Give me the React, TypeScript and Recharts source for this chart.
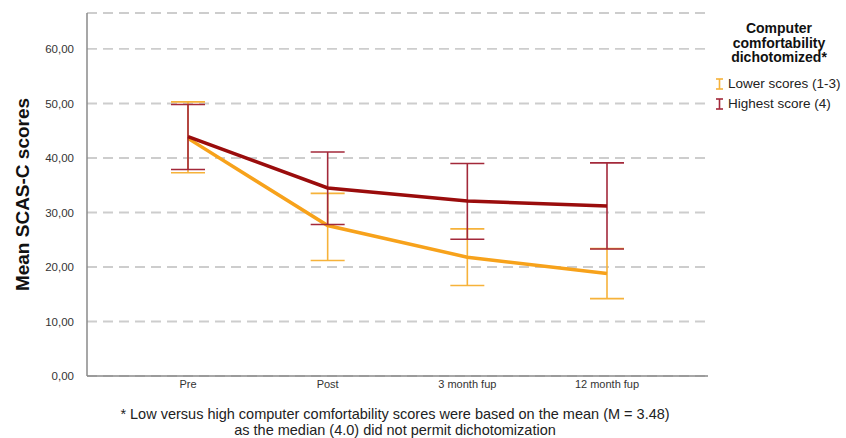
import React from 'react';
import { ComposedChart, Line, XAxis, YAxis, CartesianGrid, ErrorBar, Legend, Label } from 'recharts';

const categories = ['Pre', 'Post', '3 month fup', '12 month fup'];
const lowerMean = [43.6, 27.6, 21.8, 18.8];
const lowerCiLow = [37.3, 21.2, 16.6, 14.2];
const lowerCiHigh = [50.3, 33.5, 27.0, 23.4];
const highMean = [43.9, 34.5, 32.1, 31.2];
const highCiLow = [37.9, 27.8, 25.1, 23.3];
const highCiHigh = [49.8, 41.1, 39.0, 39.1];
const yTicks = [0, 10, 20, 30, 40, 50, 60];
const seriesNames = ['Lower scores (1-3)', 'Highest score (4)'];
const legendTitle = ['Computer', 'comfortability', 'dichotomized*'];
const footnote = [
  '* Low versus high computer comfortability scores were based on the mean (M = 3.48)',
  'as the median (4.0) did not permit dichotomization',
];

const LOW_LINE = '#F7A21B';
const LOW_ERR = '#F6B23A';
const HIGH_LINE = '#9A0C0C';
const HIGH_ERR = '#A3293A';
const FONT = '"Liberation Sans", Arial, sans-serif';

const data = categories.map((c, i) => ({
  cat: c,
  low: lowerMean[i],
  lowErr: [lowerMean[i] - lowerCiLow[i], lowerCiHigh[i] - lowerMean[i]],
  high: highMean[i],
  highErr: [highMean[i] - highCiLow[i], highCiHigh[i] - highMean[i]],
}));

const fmt = (v: number) => v.toFixed(2).replace('.', ',');

const ErrIcon = ({ color }: { color: string }) => (
  <svg width={9} height={12} style={{ display: 'inline-block', verticalAlign: 'middle' }}>
    <line x1={1} y1={1} x2={8} y2={1} stroke={color} strokeWidth={1.6} />
    <line x1={4.5} y1={1} x2={4.5} y2={11} stroke={color} strokeWidth={1.6} />
    <line x1={1} y1={11} x2={8} y2={11} stroke={color} strokeWidth={1.6} />
  </svg>
);

const LegendContent = () => {
  const colors = [LOW_ERR, HIGH_ERR];
  return (
    <div style={{ fontFamily: FONT, color: '#111' }}>
      <div style={{ fontWeight: 'bold', fontSize: 14, lineHeight: '14.5px', textAlign: 'center' }}>
        {legendTitle.map((t) => (
          <div key={t}>{t}</div>
        ))}
      </div>
      <div style={{ marginTop: 9, paddingLeft: 9 }}>
        {seriesNames.map((n, i) => (
          <div key={n} style={{ fontSize: 13.5, lineHeight: '20px', whiteSpace: 'nowrap', color: '#222' }}>
            <ErrIcon color={colors[i]} />
            <span style={{ marginLeft: 4, verticalAlign: 'middle' }}>{n}</span>
          </div>
        ))}
      </div>
    </div>
  );
};

export default function App() {
  return (
    <div style={{ position: 'absolute', left: 0, top: 0, width: 846, height: 438, background: '#fff', overflow: 'hidden' }}>
      <ComposedChart
        width={846}
        height={438}
        data={data}
        margin={{ top: 13, right: 138, bottom: 42, left: 0 }}
      >
        <CartesianGrid vertical={false} stroke="#cdcdcd" strokeWidth={1.8} strokeDasharray="10 6" />
        <XAxis
          dataKey="cat"
          height={20}
          padding={{ left: 101, right: 101 }}
          axisLine={{ stroke: '#8a8a8a', strokeWidth: 1.5 }}
          tickLine={false}
          tickSize={0}
          tickMargin={4}
          tick={{ fontSize: 11, fill: '#333', fontFamily: FONT }}
        />
        <YAxis
          width={87}
          domain={[0, 66.6]}
          ticks={yTicks}
          tickFormatter={fmt}
          axisLine={{ stroke: '#8a8a8a', strokeWidth: 1.5 }}
          tickLine={false}
          tickSize={6}
          tickMargin={7}
          tick={{ fontSize: 11.5, fill: '#333', fontFamily: FONT }}
        >
          <Label
            value="Mean SCAS-C scores"
            angle={-90}
            position="insideLeft"
            offset={22}
            style={{ fontSize: 19, fontWeight: 'bold', fill: '#111', fontFamily: FONT, textAnchor: 'middle' }}
          />
        </YAxis>
        <Legend
          layout="vertical"
          align="center"
          verticalAlign="middle"
          wrapperStyle={{ left: 706, top: 21, width: 146 }}
          content={<LegendContent />}
        />
        <Line
          type="linear"
          dataKey="low"
          name={seriesNames[0]}
          stroke={LOW_LINE}
          strokeWidth={3.5}
          dot={false}
          activeDot={false}
          isAnimationActive={false}
        >
          <ErrorBar dataKey="lowErr" direction="y" width={17} stroke={LOW_ERR} strokeWidth={1.6} />
        </Line>
        <Line
          type="linear"
          dataKey="high"
          name={seriesNames[1]}
          stroke={HIGH_LINE}
          strokeWidth={3.5}
          dot={false}
          activeDot={false}
          isAnimationActive={false}
        >
          <ErrorBar dataKey="highErr" direction="y" width={17} stroke={HIGH_ERR} strokeWidth={1.6} />
        </Line>
      </ComposedChart>
      <div
        style={{
          position: 'absolute',
          left: 0,
          width: 790,
          top: 406,
          textAlign: 'center',
          fontFamily: FONT,
          fontSize: 14.5,
          lineHeight: '16px',
          color: '#222',
        }}
      >
        {footnote.map((f) => (
          <div key={f}>{f}</div>
        ))}
      </div>
    </div>
  );
}
